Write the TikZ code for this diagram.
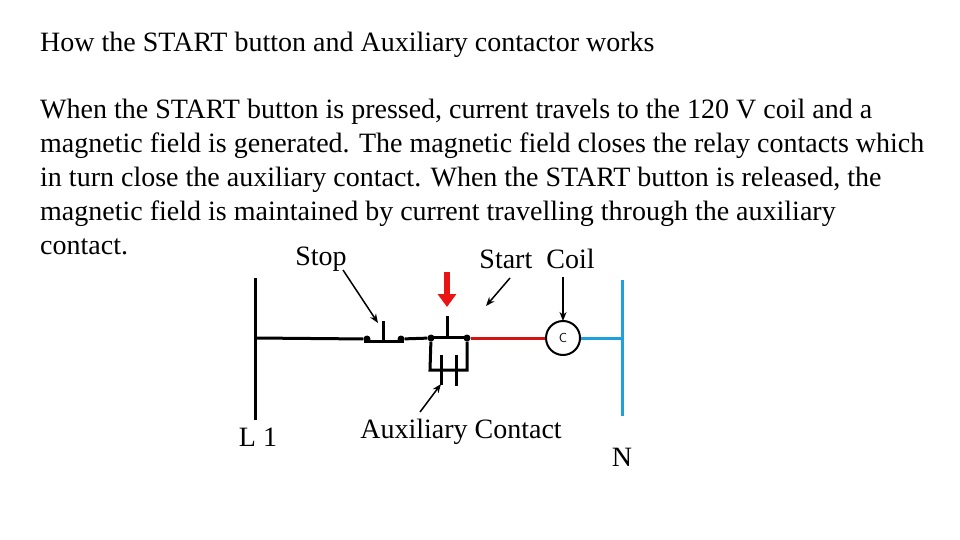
\documentclass[tikz,border=0pt]{standalone}
\usepackage{fontspec}
\setmainfont{Liberation Serif}
\usetikzlibrary{arrows.meta}
\begin{document}
\begin{tikzpicture}[x=1pt,y=-1pt,
  txt/.style={inner sep=0pt,font=\fontsize{28}{30}\selectfont},
  wire/.style={line width=3pt},
  lbl/.style={-{Stealth[length=9pt,width=7pt]},line width=1.5pt},
  dot/.style={circle,fill,inner sep=0pt,minimum size=7pt}]
\useasboundingbox (0,0) rectangle (960,540);
\node[txt,anchor=west] (title) at (40,45) {How the START button and Auxiliary contactor works};
\node[txt,anchor=north west,align=left,font=\fontsize{28}{34}\selectfont] (para) at (40,99)
{When the START button is pressed, current travels to the 120 V coil and a\\
magnetic field is generated. The magnetic field closes the relay contacts which\\
in turn close the auxiliary contact. When the START button is released, the\\
magnetic field is maintained by current travelling through the auxiliary\\
contact.};
\node[txt] (stop) at (321,259) {Stop};
\node[txt] (startcoil) at (537,259) {Start\ \ Coil};
\node[txt] (l1) at (258,437) {L 1};
\node[txt] (aux) at (461,432) {Auxiliary Contact};
\node[txt] (n) at (622,457) {N};
% rails
\coordinate (l1t) at (255,278); \coordinate (l1b) at (255,420);
\draw[wire] (l1t) -- (l1b);
\coordinate (nt) at (622,280); \coordinate (nb) at (622,416);
\draw[wire,color={rgb,255:red,30;green,160;blue,220}] (nt) -- (nb);
% wire to stop
\node[dot] (s1) at (367,339) {};
\node[dot] (s2) at (401,339) {};
\draw[wire] (255,338) -- (s1);
\draw[wire] (364,341) -- (404,341);
\draw[wire] (383,341) -- (383,321);
% to start
\node[dot] (t1) at (431,338) {};
\node[dot] (t2) at (467,338) {};
\draw[wire] (s2) -- (t1);
\draw[wire] (429,337) -- (469,337);
\draw[wire] (447,337) -- (447,316);
% aux box
\draw[wire] (t1) -- (430,370) -- (467,370) -- (t2);
\draw[wire] (441,355) -- (441,385);
\draw[wire] (456,355) -- (456,386);
% red, coil, blue
\node[draw,circle,line width=2pt,minimum size=34pt,inner sep=0pt,font=\sffamily\fontsize{13}{13}\selectfont] (coil) at (563,338) {C};
\draw[wire,color={rgb,255:red,210;green,20;blue,20}] (t2) -- (coil.west);
\draw[wire,color={rgb,255:red,30;green,160;blue,220}] (coil.east) -- (622,338);
% red arrow
\coordinate (ra1) at (447,272); \coordinate (ra2) at (447,307);
\draw[-{Triangle[length=13pt,width=18pt]},line width=6pt,color={rgb,255:red,235;green,20;blue,20}] (ra1) -- (ra2);
% label arrows
\draw[lbl] (343,270) -- (378,323);
\draw[lbl] (510,278) -- (486,306);
\draw[lbl] (563,277) -- (563,321);
\draw[lbl] (420,412) -- (441,384);
\end{tikzpicture}
\end{document}
